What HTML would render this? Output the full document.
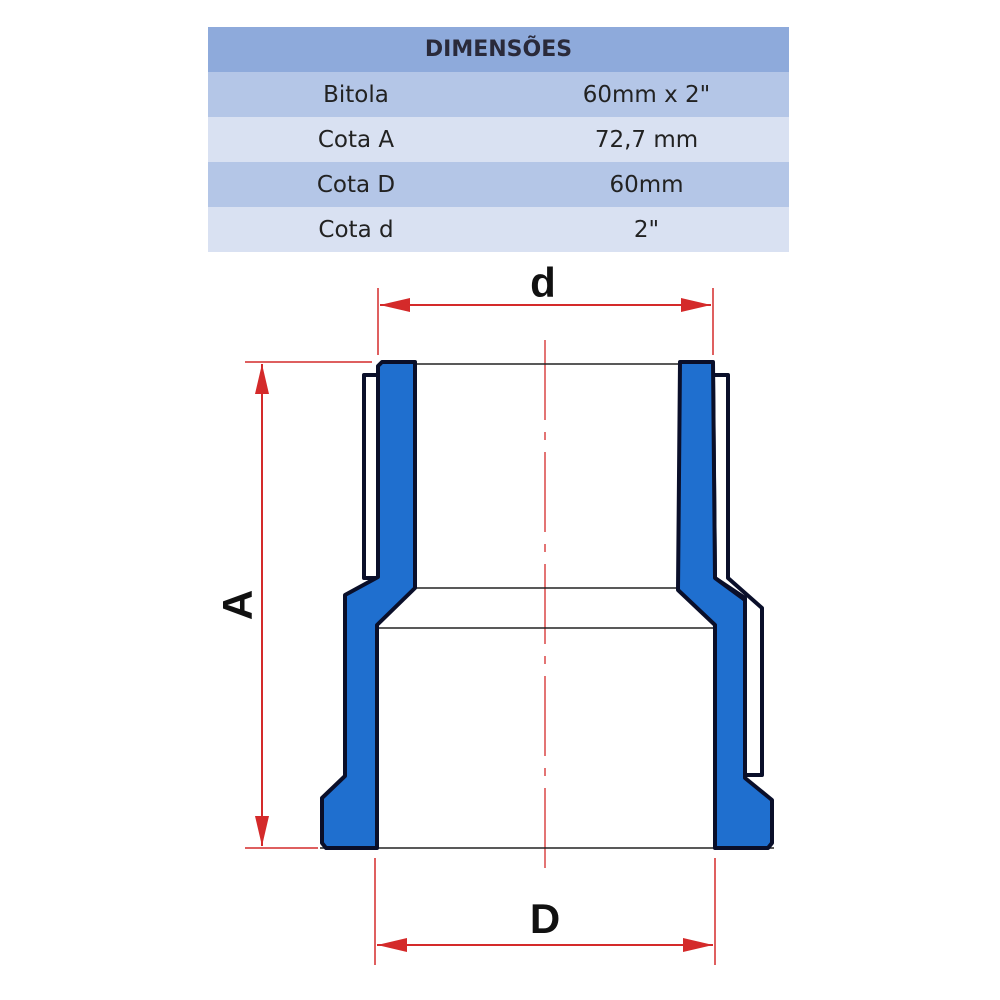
<!DOCTYPE html>
<html><head><style>
body{margin:0;width:1000px;height:1000px;background:#fff;overflow:hidden;font-family:"Liberation Sans",sans-serif}
table{position:absolute;left:208px;top:27px;width:581px;border-collapse:collapse;font-family:"DejaVu Sans","Liberation Sans",sans-serif;font-size:23px;color:#222}
td{height:45px;padding:0;text-align:center}
</style></head><body>
<table>
<tr style="background:#8eaadb"><td colspan="2" style="font-weight:bold;font-size:22px;color:#2a2a3a">DIMENSÕES</td></tr>
<tr style="background:#b4c6e7"><td style="width:296px">Bitola</td><td>60mm x 2"</td></tr>
<tr style="background:#d9e1f2"><td>Cota A</td><td>72,7 mm</td></tr>
<tr style="background:#b4c6e7"><td>Cota D</td><td>60mm</td></tr>
<tr style="background:#d9e1f2;"><td style="height:43px">Cota d</td><td>2"</td></tr>
</table>
<svg width="1000" height="1000" style="position:absolute;left:0;top:0">
<defs>
<marker id="ar" viewBox="0 0 10 10" refX="10" refY="5" markerWidth="30" markerHeight="14" orient="auto-start-reverse" markerUnits="userSpaceOnUse" preserveAspectRatio="none"><path d="M0,0 L10,5 L0,10 Z" fill="#d42a2a"/></marker>
</defs>
<g stroke="#d42a2a" stroke-width="1.5" fill="none">
<line x1="545" y1="340" x2="545" y2="870" stroke-dasharray="80,12,8,12" stroke-width="1.3"/>
<line x1="378" y1="288" x2="378" y2="355"/><line x1="713" y1="288" x2="713" y2="355"/>
<line x1="380" y1="305" x2="711" y2="305" marker-start="url(#ar)" marker-end="url(#ar)" stroke-width="2"/>
<line x1="245" y1="362" x2="372" y2="362"/><line x1="245" y1="848" x2="318" y2="848"/>
<line x1="262" y1="364" x2="262" y2="846" marker-start="url(#ar)" marker-end="url(#ar)" stroke-width="2"/>
<line x1="375" y1="858" x2="375" y2="965"/><line x1="715" y1="858" x2="715" y2="965"/>
<line x1="377" y1="945" x2="713" y2="945" marker-start="url(#ar)" marker-end="url(#ar)" stroke-width="2"/>
</g>
<g stroke="#222" stroke-width="1.5">
<line x1="415" y1="364" x2="678" y2="364"/>
<line x1="415" y1="588" x2="678" y2="588"/>
<line x1="375" y1="628" x2="715" y2="628"/>
<line x1="320" y1="848" x2="774" y2="848"/>
</g>
<g fill="#1f6fcf" stroke="#0a0f2a" stroke-width="4" stroke-linejoin="round">
<path d="M378,375 L364,375 L364,578 L378,578 Z" fill="#fff"/>
<path d="M382,362 L415,362 L415,588 L377,625 L377,848 L326,848 L322,843 L322,798 L345,776 L345,595 L378,577 L378,366 Z"/>
<path d="M713,375 L728,375 L728,578 L762,608 L762,775 L745,775 L745,598 L715,578 Z" fill="#fff"/>
<path d="M680,362 L713,362 L715,578 L745,600 L745,778 L772,800 L772,843 L768,848 L715,848 L715,625 L678,590 Z"/>
</g>
<g font-family="Liberation Sans,sans-serif" font-weight="bold" font-size="42" fill="#111" text-anchor="middle">
<text x="543" y="297">d</text>
<text x="545" y="933">D</text>
<text transform="translate(252,605) rotate(-90)">A</text>
</g>
</svg>
</body></html>
